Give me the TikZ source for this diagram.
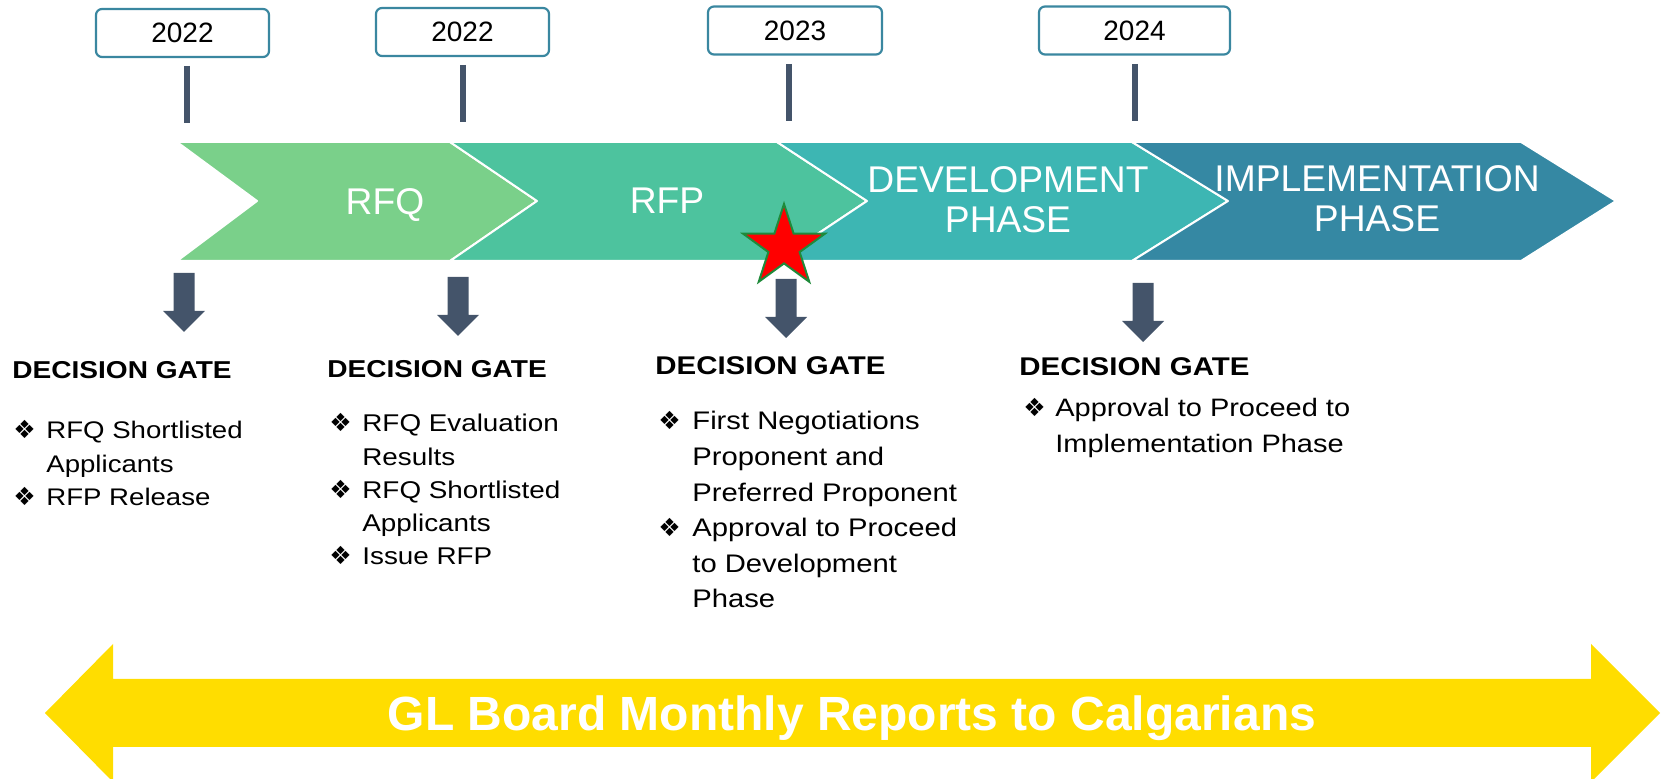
\documentclass[tikz,border=0pt]{standalone}
\usepackage{fontspec}
\setmainfont{Liberation Sans}
\newfontfamily\gatefont[FakeStretch=1.15]{Liberation Sans}
\newfontfamily\symfont{DejaVu Sans}
\usetikzlibrary{shapes.geometric}

\definecolor{rfqGreen}{HTML}{7AD08A}
\definecolor{rfpGreen}{HTML}{4DC39E}
\definecolor{devTeal}{HTML}{3DB6B3}
\definecolor{implBlue}{HTML}{3588A3}
\definecolor{boxBlue}{HTML}{3A87A0}
\definecolor{slate}{HTML}{44546A}
\definecolor{reportYellow}{HTML}{FFDD00}
\definecolor{starGreen}{HTML}{1F8A3A}

\def\Gate{DECISION GATE}
\newcommand\gb{{\symfont\fontsize{12.5}{12}\selectfont ❖}}

\begin{document}
\begin{tikzpicture}[x=0.5pt,y=-0.5pt,
  every node/.style={inner sep=0pt},
  year/.style={draw=boxBlue,line width=1.1pt,rounded corners=3pt,fill=white,
    minimum height=24pt,font=\fontsize{14}{16}\selectfont},
  phase/.style={draw=white,line width=1pt,line join=round},
  chev/.style={text=white,align=center,font=\fontsize{18.6}{20}\selectfont},
  tick/.style={slate,line width=3pt},
  head/.style={anchor=base west,font=\gatefont\bfseries\fontsize{12.2}{15}\selectfont},
  items/.style={anchor=base west,align=left}]

\useasboundingbox (0,0) rectangle (1665,779);

% Phase chevrons
\filldraw[phase,fill=rfqGreen]
  (177,142) -- (450,142) -- (537,201) -- (450,261) -- (177,261) -- (257,201) -- cycle;
\filldraw[phase,fill=rfpGreen]
  (450,142) -- (777,142) -- (867,201) -- (777,261) -- (450,261) -- (537,201) -- cycle;
\filldraw[phase,fill=devTeal]
  (777,142) -- (1132,142) -- (1228,201) -- (1132,261) -- (777,261) -- (867,201) -- cycle;
\filldraw[phase,fill=implBlue]
  (1132,142) -- (1521,142) -- (1616,201) -- (1521,261) -- (1132,261) -- (1228,201) -- cycle;

% Phase labels
\node[chev,anchor=base] (rfq) at (385,215) {RFQ};
\node[chev,anchor=base] (rfp) at (667,214) {RFP};
\node[chev] (dev) at (1008,200) {DEVELOPMENT\\PHASE};
\node[chev] (impl) at (1377,199) {IMPLEMENTATION\\PHASE};

% Year boxes
\node[year,minimum width=86.5pt] (y1) at (182.5,33) {2022};
\node[year,minimum width=86.5pt] (y2) at (462.5,32) {2022};
\node[year,minimum width=87pt] (y3) at (795,30.5) {2023};
\node[year,minimum width=95.5pt] (y4) at (1134.5,30.5) {2024};

% Year ticks
\foreach \x/\t in {187/66, 463/65, 789/64, 1135/64}
  \draw[tick] (\x,\t) -- (\x,\t+57);

% Current position
\node[star,star points=5,star point ratio=2.618,minimum size=43pt,
  fill=red,draw=starGreen,line width=1pt] (now) at (784,247) {};

% Gate arrows
\foreach \x/\t in {184/273, 458/277, 786/279, 1143/283}
  \fill[slate] (\x-10.5,\t) -- (\x+10.5,\t) -- (\x+10.5,\t+38) -- (\x+21,\t+38)
    -- (\x,\t+59) -- (\x-21,\t+38) -- (\x-10.5,\t+38) -- cycle;

% Decision gates
\node[head] (g1) at (12,379) {\Gate};
\node[head] (g2) at (327,378) {\Gate};
\node[head,font=\gatefont\bfseries\fontsize{12.8}{15}\selectfont] (g3) at (655,375) {\Gate};
\node[head,font=\gatefont\bfseries\fontsize{12.8}{15}\selectfont] (g4) at (1019,376) {\Gate};

\node[items,font=\gatefont\fontsize{12}{16.75}\selectfont] (l1) at (13,439)
  {\begin{tabular}[t]{@{}p{16.5pt}@{}l@{}}
   \gb & RFQ Shortlisted\\
       & Applicants\\
   \gb & RFP Release
   \end{tabular}};
\node[items,font=\gatefont\fontsize{12.1}{16.6}\selectfont] (l2) at (329,432)
  {\begin{tabular}[t]{@{}p{16.5pt}@{}l@{}}
   \gb & RFQ Evaluation\\
       & Results\\
   \gb & RFQ Shortlisted\\
       & Applicants\\
   \gb & Issue RFP
   \end{tabular}};
\node[items,font=\gatefont\fontsize{12.7}{17.8}\selectfont] (l3) at (658,430)
  {\begin{tabular}[t]{@{}p{17pt}@{}l@{}}
   \gb & First Negotiations\\
       & Proponent and\\
       & Preferred Proponent\\
   \gb & Approval to Proceed\\
       & to Development\\
       & Phase
   \end{tabular}};
\node[items,font=\gatefont\fontsize{12.6}{18}\selectfont] (l4) at (1023,417)
  {\begin{tabular}[t]{@{}p{16pt}@{}l@{}}
   \gb & Approval to Proceed to\\
       & Implementation Phase
   \end{tabular}};

% Monthly reports
\fill[reportYellow] (45,713) -- (113,644) -- (113,679) -- (1591,679) -- (1591,644)
  -- (1660,713) -- (1591,782) -- (1591,747) -- (113,747) -- (113,782) -- cycle;
\node[anchor=base,text=white,font=\bfseries\fontsize{24}{28}\selectfont] (reports)
  at (852,731) {GL Board Monthly Reports to Calgarians};

\end{tikzpicture}
\end{document}
